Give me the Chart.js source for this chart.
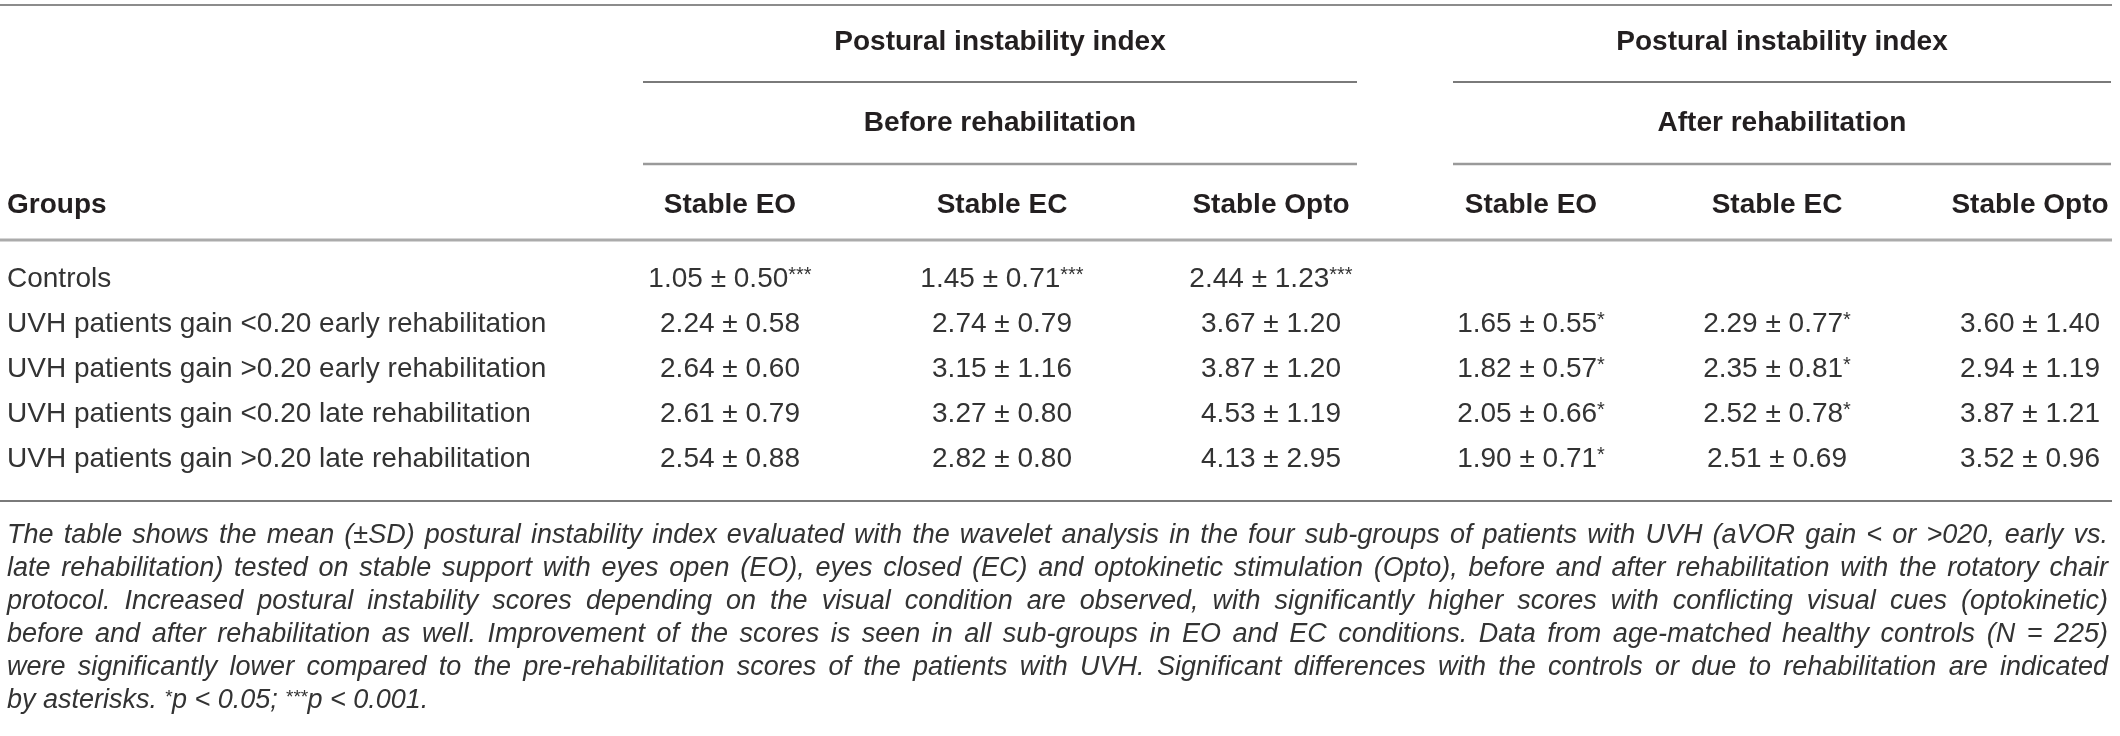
<!DOCTYPE html>
<html>
<head>
<meta charset="utf-8">
<script src="https://cdn.jsdelivr.net/npm/chart.js@4.4.0/dist/chart.umd.min.js"></script>
<style>
  html, body { margin: 0; padding: 0; background: #fff; }
  canvas { display: block; }
</style>
</head>
<body>
<canvas id="chart" width="2120" height="736"></canvas>
<script>
// table content
const measure = 'Postural instability index';
const phases = ['Before rehabilitation', 'After rehabilitation'];
const conditions = ['Stable EO', 'Stable EC', 'Stable Opto'];
const groups = [
  'Controls',
  'UVH patients gain <0.20 early rehabilitation',
  'UVH patients gain >0.20 early rehabilitation',
  'UVH patients gain <0.20 late rehabilitation',
  'UVH patients gain >0.20 late rehabilitation'
];

const beforeEOMean = [1.05, 2.24, 2.64, 2.61, 2.54];
const beforeEOSD   = [0.50, 0.58, 0.60, 0.79, 0.88];
const beforeEOSig  = ['***', '', '', '', ''];
const beforeECMean = [1.45, 2.74, 3.15, 3.27, 2.82];
const beforeECSD   = [0.71, 0.79, 1.16, 0.80, 0.80];
const beforeECSig  = ['***', '', '', '', ''];
const beforeOptoMean = [2.44, 3.67, 3.87, 4.53, 4.13];
const beforeOptoSD   = [1.23, 1.20, 1.20, 1.19, 2.95];
const beforeOptoSig  = ['***', '', '', '', ''];
const afterEOMean = [null, 1.65, 1.82, 2.05, 1.90];
const afterEOSD   = [null, 0.55, 0.57, 0.66, 0.71];
const afterEOSig  = ['', '*', '*', '*', '*'];
const afterECMean = [null, 2.29, 2.35, 2.52, 2.51];
const afterECSD   = [null, 0.77, 0.81, 0.78, 0.69];
const afterECSig  = ['', '*', '*', '*', ''];
const afterOptoMean = [null, 3.60, 2.94, 3.87, 3.52];
const afterOptoSD   = [null, 1.40, 1.19, 1.21, 0.96];
const afterOptoSig  = ['', '', '', '', ''];

const captionLines = [
  'The table shows the mean (\u00b1SD) postural instability index evaluated with the wavelet analysis in the four sub-groups of patients with UVH (aVOR gain < or >020, early vs.',
  'late rehabilitation) tested on stable support with eyes open (EO), eyes closed (EC) and optokinetic stimulation (Opto), before and after rehabilitation with the rotatory chair',
  'protocol. Increased postural instability scores depending on the visual condition are observed, with significantly higher scores with conflicting visual cues (optokinetic)',
  'before and after rehabilitation as well. Improvement of the scores is seen in all sub-groups in EO and EC conditions. Data from age-matched healthy controls (N = 225)',
  'were significantly lower compared to the pre-rehabilitation scores of the patients with UVH. Significant differences with the controls or due to rehabilitation are indicated'
];
const captionEnd = [
  { t: 'by asterisks. ' }, { t: '*', sup: true }, { t: 'p < 0.05; ' },
  { t: '***', sup: true }, { t: 'p < 0.001.' }
];

// layout (scale units = canvas px)
const colX = [730, 1002, 1271, 1531, 1777, 2030];
const rowY = [277, 322, 367, 412, 457];
const spanL = [643, 1357], spanR = [1453, 2111];
const labelX = 7, fullRule = [0, 2112];

const columns = [
  [beforeEOMean, beforeEOSD, beforeEOSig],
  [beforeECMean, beforeECSD, beforeECSig],
  [beforeOptoMean, beforeOptoSD, beforeOptoSig],
  [afterEOMean, afterEOSD, afterEOSig],
  [afterECMean, afterECSD, afterECSig],
  [afterOptoMean, afterOptoSD, afterOptoSig]
];

const datasets = columns.map((col, c) => ({
  label: (c < 3 ? phases[0] : phases[1]) + ' ' + conditions[c % 3],
  data: col[0].map((m, r) => m === null ? null : { x: colX[c], y: rowY[r], mean: m, sd: col[1][r], sig: col[2][r] }).filter(d => d),
  pointRadius: 0,
  showLine: false
}));

const FONT = '"Liberation Sans", Arial, Helvetica, sans-serif';
const INK = '#231f20';
const TEXT = '#333333';

// text pieces on one baseline, superscripts raised to the digit top
function drawParts(ctx, parts, x, baseline, size, style, align) {
  const supSize = Math.round(size * 0.72);
  const fontOf = p => (style ? style + ' ' : '') + (p.sup ? supSize : size) + 'px ' + FONT;
  const widths = parts.map(p => { ctx.font = fontOf(p); return ctx.measureText(p.t).width; });
  const total = widths.reduce((a, b) => a + b, 0);
  let cx = align === 'center' ? x - total / 2 : x;
  ctx.textAlign = 'left';
  ctx.textBaseline = 'alphabetic';
  parts.forEach((p, i) => {
    ctx.font = fontOf(p);
    ctx.fillText(p.t, cx, p.sup ? baseline - size * 0.2 : baseline);
    cx += widths[i];
  });
}

const tablePlugin = {
  id: 'tablePlugin',
  afterDatasetsDraw(chart) {
    const ctx = chart.ctx;
    const sx = chart.scales.x, sy = chart.scales.y;
    const px = v => sx.getPixelForValue(v);
    const py = v => sy.getPixelForValue(v);

    function rule(a, b, yv, w, color) {
      ctx.save();
      ctx.strokeStyle = color;
      ctx.lineWidth = w;
      ctx.beginPath();
      ctx.moveTo(px(a), py(yv));
      ctx.lineTo(px(b), py(yv));
      ctx.stroke();
      ctx.restore();
    }

    ctx.save();
    ctx.textBaseline = 'middle';

    // rules
    rule(fullRule[0], fullRule[1], 5, 2, '#8c8c8c');
    rule(spanL[0], spanL[1], 82, 2, '#7a7a7a');
    rule(spanR[0], spanR[1], 82, 2, '#7a7a7a');
    rule(spanL[0], spanL[1], 164, 2.5, '#9a9a9a');
    rule(spanR[0], spanR[1], 164, 2.5, '#9a9a9a');
    rule(fullRule[0], fullRule[1], 240, 3, '#ababab');
    rule(fullRule[0], fullRule[1], 501, 2, '#7a7a7a');

    // header
    ctx.fillStyle = INK;
    ctx.font = 'bold 28px ' + FONT;
    ctx.textAlign = 'center';
    const cL = (spanL[0] + spanL[1]) / 2, cR = (spanR[0] + spanR[1]) / 2;
    ctx.fillText(measure, px(cL), py(42));
    ctx.fillText(measure, px(cR), py(42));
    ctx.fillText(phases[0], px(cL), py(123));
    ctx.fillText(phases[1], px(cR), py(123));
    ctx.textAlign = 'left';
    ctx.fillText('Groups', px(labelX), py(205));
    ctx.textAlign = 'center';
    colX.forEach((cx, c) => ctx.fillText(conditions[c % 3], px(cx), py(205)));

    // row labels, same baseline as the cells
    ctx.fillStyle = TEXT;
    ctx.font = '28px ' + FONT;
    ctx.textAlign = 'left';
    ctx.textBaseline = 'alphabetic';
    groups.forEach((g, r) => ctx.fillText(g, px(labelX), py(rowY[r]) + 10));

    // cells, placed from each dataset's points
    chart.data.datasets.forEach((ds, i) => {
      const meta = chart.getDatasetMeta(i);
      meta.data.forEach((pt, j) => {
        const d = ds.data[j];
        const parts = [{ t: d.mean.toFixed(2) + ' \u00b1 ' + d.sd.toFixed(2) }];
        if (d.sig) parts.push({ t: d.sig, sup: true });
        drawParts(ctx, parts, pt.x, pt.y + 10, 28, '', 'center');
      });
    });

    // caption, justified
    const x0 = px(labelX), x1 = px(2108);
    ctx.font = 'italic 27px ' + FONT;
    ctx.textAlign = 'left';
    ctx.textBaseline = 'alphabetic';
    captionLines.forEach((line, k) => {
      const yy = py(533 + 33 * k) + 10;
      const words = line.split(' ');
      const ww = words.map(w => ctx.measureText(w).width);
      const sum = ww.reduce((a, b) => a + b, 0);
      const space = ctx.measureText(' ').width;
      const gap = (x1 - x0 - sum) / (words.length - 1);
      if (gap < space * 0.6) {
        ctx.fillText(line, x0, yy, x1 - x0);
      } else {
        let x = x0;
        words.forEach((w, i) => { ctx.fillText(w, x, yy); x += ww[i] + gap; });
      }
    });
    drawParts(ctx, captionEnd, x0, py(533 + 33 * 5) + 10, 27, 'italic', 'left');

    ctx.restore();
  }
};

const myChart = new Chart(document.getElementById('chart'), {
  type: 'scatter',
  data: { datasets },
  options: {
    responsive: false,
    devicePixelRatio: 1,
    animation: false,
    events: [],
    layout: { padding: 0 },
    plugins: { legend: { display: false }, tooltip: { enabled: false } },
    scales: {
      x: { type: 'linear', display: false, min: 0, max: 2120 },
      y: { type: 'linear', display: false, min: 0, max: 736, reverse: true }
    }
  },
  plugins: [tablePlugin]
});
</script>
</body>
</html>
